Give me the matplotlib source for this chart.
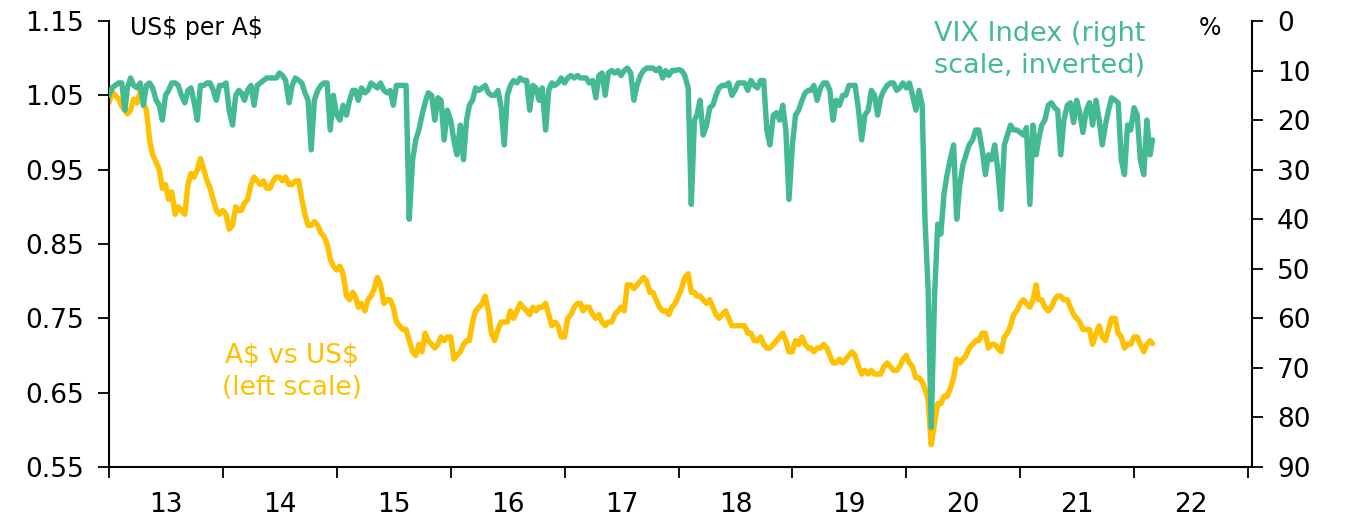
import numpy as np
import pandas as pd
import matplotlib
matplotlib.use("Agg")
import matplotlib.pyplot as plt

# ---------------- data (sampled on the 1st, 11th and 21st of each month) ----------------
aud_2013 = [1.04, 1.055, 1.05, 1.045, 1.035, 1.03, 1.025, 1.03, 1.045, 1.04, 1.055, 1.04,
            1.03, 0.99, 0.97, 0.96, 0.95, 0.925, 0.93, 0.91, 0.92, 0.89, 0.90, 0.895,
            0.89, 0.93, 0.945, 0.94, 0.95, 0.965, 0.95, 0.935, 0.925, 0.91, 0.895, 0.89]
aud_2014 = [0.895, 0.89, 0.87, 0.875, 0.90, 0.895, 0.895, 0.905, 0.91, 0.93, 0.94, 0.935,
            0.93, 0.935, 0.925, 0.925, 0.935, 0.94, 0.94, 0.935, 0.94, 0.93, 0.93, 0.935,
            0.935, 0.91, 0.89, 0.875, 0.875, 0.88, 0.875, 0.865, 0.86, 0.85, 0.83, 0.82]
aud_2015 = [0.815, 0.82, 0.81, 0.78, 0.775, 0.785, 0.78, 0.765, 0.77, 0.76, 0.775, 0.78,
            0.79, 0.805, 0.795, 0.77, 0.775, 0.775, 0.765, 0.745, 0.74, 0.735, 0.735, 0.72,
            0.705, 0.70, 0.715, 0.705, 0.73, 0.72, 0.715, 0.71, 0.715, 0.725, 0.72, 0.725]
aud_2016 = [0.725, 0.695, 0.70, 0.705, 0.715, 0.72, 0.72, 0.745, 0.76, 0.765, 0.77, 0.78,
            0.76, 0.73, 0.72, 0.735, 0.745, 0.745, 0.745, 0.76, 0.75, 0.76, 0.77, 0.765,
            0.76, 0.755, 0.765, 0.76, 0.765, 0.765, 0.77, 0.755, 0.74, 0.745, 0.74, 0.725]
aud_2017 = [0.725, 0.75, 0.755, 0.765, 0.77, 0.77, 0.76, 0.765, 0.765, 0.755, 0.75, 0.755,
            0.745, 0.74, 0.745, 0.745, 0.755, 0.76, 0.765, 0.76, 0.795, 0.795, 0.79, 0.795,
            0.80, 0.805, 0.80, 0.785, 0.785, 0.775, 0.765, 0.76, 0.76, 0.755, 0.765, 0.77]
aud_2018 = [0.78, 0.79, 0.805, 0.81, 0.785, 0.785, 0.78, 0.78, 0.775, 0.77, 0.775, 0.765,
            0.755, 0.75, 0.755, 0.76, 0.75, 0.74, 0.74, 0.74, 0.74, 0.74, 0.73, 0.73,
            0.72, 0.72, 0.725, 0.715, 0.71, 0.71, 0.715, 0.72, 0.725, 0.73, 0.72, 0.705]
aud_2019 = [0.705, 0.72, 0.715, 0.725, 0.715, 0.71, 0.71, 0.705, 0.71, 0.71, 0.715, 0.71,
            0.70, 0.69, 0.69, 0.695, 0.69, 0.695, 0.70, 0.705, 0.70, 0.685, 0.675, 0.68,
            0.675, 0.68, 0.675, 0.675, 0.675, 0.685, 0.69, 0.685, 0.68, 0.68, 0.685, 0.695]
aud_2020 = [0.70, 0.69, 0.685, 0.67, 0.67, 0.665, 0.655, 0.64, 0.58, 0.61, 0.635, 0.635,
            0.645, 0.645, 0.655, 0.67, 0.695, 0.69, 0.695, 0.70, 0.71, 0.715, 0.72, 0.72,
            0.73, 0.73, 0.71, 0.715, 0.715, 0.71, 0.705, 0.725, 0.73, 0.74, 0.755, 0.76]
aud_2021 = [0.77, 0.775, 0.77, 0.765, 0.775, 0.795, 0.775, 0.775, 0.765, 0.76, 0.765, 0.775,
            0.78, 0.78, 0.775, 0.775, 0.765, 0.755, 0.75, 0.745, 0.735, 0.735, 0.735, 0.715,
            0.73, 0.74, 0.725, 0.72, 0.735, 0.75, 0.75, 0.73, 0.725, 0.71, 0.715, 0.715]
aud_2022 = [0.725, 0.725, 0.715, 0.705, 0.715, 0.72, 0.716]

vix_2013 = [15, 13.5, 13, 12.5, 12.5, 18, 13.5, 11.5, 13, 13.5, 12.5, 17,
            13, 12.5, 13.5, 16, 17, 20, 15, 14, 12.5, 12.5, 13, 15,
            16.5, 14, 13.5, 16.5, 20, 13, 13, 12.5, 12.5, 14, 16, 13]
vix_2014 = [13, 12.5, 18, 21, 15, 14, 14.5, 16, 14, 13, 17, 13,
            12.5, 12, 11.5, 11.5, 11.5, 11.5, 10.5, 11, 12, 16.5, 13, 11.5,
            12, 12.5, 14.5, 16, 26, 16, 14, 13, 12.5, 12.5, 22, 15]
vix_2015 = [19, 20, 17, 19, 16, 14, 14, 16, 13.5, 14.5, 14, 12.5,
            13, 13.5, 12.5, 14, 14.5, 14, 17, 13, 13, 13, 13, 40,
            28, 24, 22, 19, 16.5, 14.5, 15, 20, 15.5, 16, 24, 18]
vix_2016 = [20, 24, 27, 21, 28, 20, 17, 16, 13.5, 14, 13.5, 13,
            14.5, 15, 15, 14, 17.5, 25, 15, 13, 12, 12.5, 11.5, 12,
            12, 18, 13, 13.5, 16, 13.5, 22, 14, 12.5, 13, 12.5, 11.5]
vix_2017 = [12.5, 11.5, 11, 11.5, 11, 11.5, 11.5, 11.5, 12.5, 12, 15.5, 11,
            10.5, 15, 10.5, 10, 10.5, 10, 11, 10, 9.5, 10.5, 16, 13,
            11, 10, 9.5, 9.5, 9.5, 10, 9.5, 11.5, 10, 11, 10, 10]
vix_2018 = [9.8, 10, 11, 13.5, 37, 20, 19, 16, 23, 21, 17.5, 17,
            15, 13.5, 13, 13, 12.5, 15, 14, 12.5, 12.5, 12.5, 14, 12,
            13, 13.5, 12, 12, 22, 25, 19, 18.5, 20, 17, 22, 36]
vix_2019 = [25, 19, 18, 16, 14.5, 14, 14, 13, 16, 13.5, 12.5, 12.5,
            14, 20, 16, 17, 15, 15, 13, 13, 13, 18, 24, 19,
            18, 14, 15, 19, 15.5, 14, 13, 12.5, 12.5, 14, 13.5, 12.5]
vix_2020 = [13.5, 12.5, 15, 18, 14, 17, 40, 54, 82, 55, 41, 43,
            35, 31, 28, 25, 40, 33, 29, 27, 25, 24, 22, 22,
            26, 31, 27, 28, 25, 30, 38, 25, 23, 21, 22, 22]
vix_2021 = [22.5, 23, 21.5, 37, 21, 27, 24, 21, 20, 17, 16.5, 17.5,
            18, 27, 20, 17, 16.5, 20.5, 16, 18.5, 22.5, 18, 16.5, 21,
            16, 20, 25, 21, 18, 15.5, 16, 16.5, 28, 31, 21, 22]
vix_2022 = [17.5, 19, 28, 31, 20, 27, 24]

years = [2013, 2014, 2015, 2016, 2017, 2018, 2019, 2020, 2021, 2022]
aud_years = [aud_2013, aud_2014, aud_2015, aud_2016, aud_2017,
             aud_2018, aud_2019, aud_2020, aud_2021, aud_2022]
vix_years = [vix_2013, vix_2014, vix_2015, vix_2016, vix_2017,
             vix_2018, vix_2019, vix_2020, vix_2021, vix_2022]
year_labels = ["13", "14", "15", "16", "17", "18", "19", "20", "21", "22"]

# ---------------- build sample dates ----------------
def decimal_year(ts):
    days = 366 if ts.is_leap_year else 365
    return ts.year + (ts.dayofyear - 1) / days

xs, aud, vix = [], [], []
for yr, a_vals, v_vals in zip(years, aud_years, vix_years):
    dates = [pd.Timestamp(yr, m, d) for m in range(1, 13) for d in (1, 11, 21)]
    dates = dates[:len(a_vals)]
    xs.extend(decimal_year(t) for t in dates)
    aud.extend(a_vals)
    vix.extend(v_vals)
xs = np.array(xs)

# ---------------- figure ----------------
font = "DejaVu Sans"
plt.rcParams["font.family"] = font
plt.rcParams["text.parse_math"] = False

W, H = 1348, 522
fig = plt.figure(figsize=(W / 100, H / 100), dpi=100)
L, R, T, B = 109, 1252, 21, 467
ax = fig.add_axes([L / W, 1 - B / H, (R - L) / W, (B - T) / H])

AUD_C = "#FFC000"
VIX_C = "#43BA94"
LW = 3.9

ax.plot(xs, aud, color=AUD_C, lw=LW, solid_joinstyle="round", solid_capstyle="round")
ax2 = ax.twinx()
ax2.plot(xs, vix, color=VIX_C, lw=LW, solid_joinstyle="round", solid_capstyle="round")

ax.set_ylim(0.55, 1.15)
ax2.set_ylim(90, 0)
ax.set_xlim(2013, 2013 + (R - L) / 113.9)

yt = np.arange(0.55, 1.151, 0.1)
ax.set_yticks(yt)
ax.set_yticklabels([f"{v:.2f}" for v in yt])
ax2.set_yticks(np.arange(0, 91, 10))

ax.set_xticks(np.arange(2013, 2024, 1))
ax.set_xticklabels([])
ax.set_xticks(np.arange(2013.5, 2023, 1), minor=True)
ax.set_xticklabels(year_labels, minor=True)

for a in (ax, ax2):
    a.spines["top"].set_visible(False)
ax.spines["right"].set_visible(False)
ax2.spines["left"].set_visible(False)
ax2.spines["bottom"].set_visible(False)
for s in ("left", "bottom"):
    ax.spines[s].set_linewidth(1.5)
ax2.spines["right"].set_linewidth(1.5)

LS = 19
ax.tick_params(axis="y", which="major", length=8, width=1.3, labelsize=LS, pad=10, direction="out")
ax2.tick_params(axis="y", which="major", length=8, width=1.3, labelsize=LS, pad=10, direction="out")
ax.tick_params(axis="x", which="major", length=8, width=1.3, direction="out")
ax.tick_params(axis="x", which="minor", length=0, labelsize=LS, pad=18)

def px(x, y):
    return x / W, 1 - y / H

fig.text(*px(130, 28), "US$ per A$", fontsize=17, ha="left", va="center")
fig.text(*px(1210, 28), "%", fontsize=17, ha="center", va="center")
fig.text(*px(1040, 50), "VIX Index (right\nscale, inverted)", fontsize=19.5, color=VIX_C,
         ha="center", va="center", multialignment="center", linespacing=1.3)
fig.text(*px(292, 372), "A$ vs US$\n(left scale)", fontsize=19, color=AUD_C,
         ha="center", va="center", multialignment="center", linespacing=1.3)

fig.savefig("out.png", dpi=100)
